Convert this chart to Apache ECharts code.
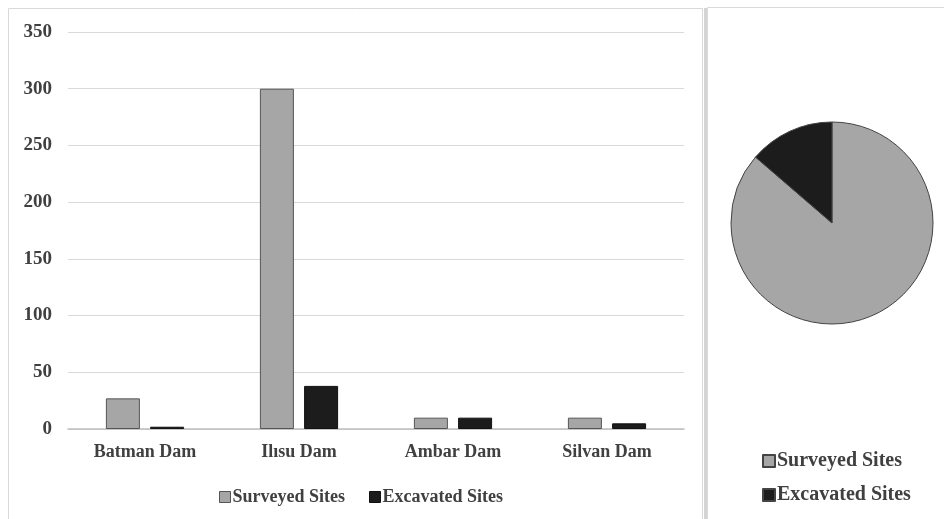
<!DOCTYPE html>
<html><head><meta charset="utf-8">
<script src="https://cdn.jsdelivr.net/npm/echarts@6/dist/echarts.min.js"></script>
<style>html,body{margin:0;padding:0;background:#fff}#c{width:944px;height:519px}</style>
</head><body><div id="c"></div>
<script>
const categories = ['Batman Dam', 'Ilısu Dam', 'Ambar Dam', 'Silvan Dam'];
const surveyed = [27, 300, 10, 10];
const excavated = [2, 38, 10, 5];
const yTicks = [0, 50, 100, 150, 200, 250, 300, 350];
const seriesNames = ['Surveyed Sites', 'Excavated Sites'];

const sum = a => a.reduce((s, v) => s + v, 0);
const font = '"Liberation Serif", "DejaVu Serif", serif';
const GRAY = '#a6a6a6', BLACK = '#1c1c1c', TXT = '#404040';

const chart = echarts.init(document.getElementById('c'), null, {renderer: 'canvas'});
chart.setOption({
  backgroundColor: '#fff',
  animation: false,
  textStyle: {fontFamily: font, color: TXT},
  graphic: [
    {type: 'rect', shape: {x: 8.5, y: 8.5, width: 694, height: 520}, style: {fill: 'none', stroke: '#d9d9d9', lineWidth: 1}, z: -1},
    {type: 'rect', shape: {x: 704, y: 8, width: 3, height: 520}, style: {fill: '#d4d4d4'}, z: -1},
    {type: 'rect', shape: {x: 707.5, y: 7.5, width: 250, height: 520}, style: {fill: 'none', stroke: '#d9d9d9', lineWidth: 1}, z: -1}
  ],
  legend: [
    {
      data: seriesNames, left: 214, top: 483, itemWidth: 11, itemHeight: 11, itemGap: 24,
      textStyle: {fontFamily: font, fontSize: 18, fontWeight: 'bold', color: TXT, padding: [0, 0, 0, -3]},
      icon: 'rect', itemStyle: {borderWidth: 1}
    },
    {
      data: seriesNames.map(n => 'Pie ' + n), orient: 'vertical', left: 757, top: 446, itemWidth: 12, itemHeight: 12, itemGap: 14,
      formatter: n => n.replace('Pie ', ''),
      textStyle: {fontFamily: font, fontSize: 20, fontWeight: 'bold', color: TXT, padding: [0, 0, 0, -3]},
      icon: 'rect'
    }
  ],
  grid: {left: 68, right: 260, top: 32, bottom: 90, containLabel: false},
  xAxis: {
    type: 'category', data: categories,
    axisLine: {lineStyle: {color: '#bfbfbf', width: 1.5}},
    axisTick: {show: false},
    axisLabel: {fontFamily: font, fontSize: 18, fontWeight: 'bold', color: TXT, margin: 14}
  },
  yAxis: {
    type: 'value', min: yTicks[0], max: yTicks[yTicks.length - 1], interval: 50,
    axisLine: {show: false}, axisTick: {show: false},
    axisLabel: {fontFamily: font, fontSize: 19, fontWeight: 'bold', color: TXT, margin: 16,
      formatter: v => yTicks.includes(v) ? String(v) : ''},
    splitLine: {lineStyle: {color: '#d9d9d9', width: 1}}
  },
  series: [
    {name: seriesNames[0], type: 'bar', data: surveyed, barWidth: 34, barGap: '30%',
      itemStyle: {color: GRAY, borderColor: '#555', borderWidth: 1}},
    {name: seriesNames[1], type: 'bar', data: excavated, barWidth: 34,
      itemStyle: {color: BLACK, borderColor: '#111', borderWidth: 1}},
    {type: 'pie', center: [832, 223], radius: 101, startAngle: 90, clockwise: true,
      label: {show: false}, labelLine: {show: false}, silent: true,
      itemStyle: {borderColor: '#444', borderWidth: 1},
      data: [
        {name: 'Pie ' + seriesNames[0], value: sum(surveyed), itemStyle: {color: GRAY}},
        {name: 'Pie ' + seriesNames[1], value: sum(excavated), itemStyle: {color: BLACK}}
      ]}
  ]
});
</script></body></html>
